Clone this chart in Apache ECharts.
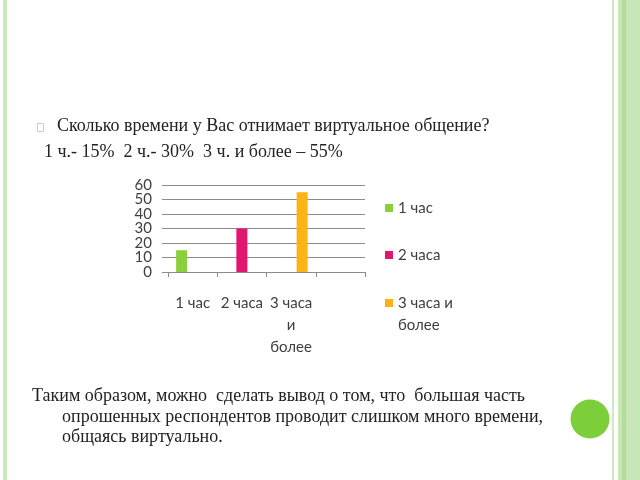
<!DOCTYPE html>
<html><head><meta charset="utf-8">
<script src="https://cdn.jsdelivr.net/npm/echarts@6/dist/echarts.min.js"></script>
<style>html,body{margin:0;padding:0;background:#fff}#c{width:640px;height:480px}</style>
</head><body><div id="c"></div>
<script>
var categories = ['1 час', '2 часа', '3 часа\nи\nболее', ''];
var seriesNames = ['1 час', '2 часа', '3 часа и\nболее'];
var values1 = [15, '-', '-', '-'];
var values2 = ['-', 30, '-', '-'];
var values3 = ['-', '-', 55, '-'];
var yMin = 0, yMax = 60, yInterval = 10;
var yLabelsEven = [0, 20, 40, 60];
var yLabelsOdd = [10, 30, 50];
var colors = ['#8ccf3c', '#e2156f', '#fbb414'];

var serif = '"Liberation Serif", "Times New Roman", serif';
var chartFont = 'Lato, "Open Sans", sans-serif';
var chart = echarts.init(document.getElementById('c'), null, {renderer: 'canvas'});
function legendAt(name, top, fmt) {
  var l = {
    data: [name], orient: 'vertical', left: 380, top: top,
    icon: 'rect', itemWidth: 8, itemHeight: 8, itemGap: 0, selectedMode: false,
    textStyle: {fontFamily: chartFont, fontSize: 15, color: '#404040', lineHeight: 22}
  };
  if (fmt) l.formatter = fmt;
  return l;
}
var labelStyle = {margin: 16, fontFamily: chartFont, fontSize: 15, color: '#404040',
                  showMinLabel: true, showMaxLabel: true};
var option = {
  animation: false,
  backgroundColor: '#ffffff',
  color: colors,
  grid: {left: 168, right: 275, top: 185, bottom: 208, containLabel: false},
  legend: [
    legendAt(seriesNames[0], 192),
    legendAt(seriesNames[1], 239),
    legendAt(seriesNames[2], 265, function (n) { return ' \n' + n; })
  ],
  xAxis: {
    type: 'category', data: categories, boundaryGap: true,
    axisLine: {show: true, lineStyle: {color: '#8c8c8c', width: 1}},
    axisTick: {show: true, length: 5, alignWithLabel: false, lineStyle: {color: '#8c8c8c'}},
    axisLabel: {interval: 0, margin: 20, fontFamily: chartFont, fontSize: 15, color: '#404040', lineHeight: 22}
  },
  yAxis: [
    {
      type: 'value', position: 'left', min: yMin, max: yMax, interval: yInterval,
      axisLine: {show: false},
      axisTick: {show: true, length: 6, lineStyle: {color: '#8c8c8c'}},
      splitLine: {show: true, lineStyle: {color: '#8c8c8c', width: 1}},
      axisLabel: Object.assign({customValues: yLabelsEven}, labelStyle)
    },
    {
      type: 'value', position: 'left', offset: 0, min: yMin, max: yMax, interval: yInterval,
      axisLine: {show: false}, axisTick: {show: false}, splitLine: {show: false},
      axisLabel: Object.assign({customValues: yLabelsOdd}, labelStyle)
    }
  ],
  series: [
    {name: seriesNames[0], type: 'bar', data: values1, barWidth: 11, barGap: '0%', itemStyle: {color: colors[0]}},
    {name: seriesNames[1], type: 'bar', data: values2, barWidth: 11, barGap: '0%', itemStyle: {color: colors[1]}},
    {name: seriesNames[2], type: 'bar', data: values3, barWidth: 11, barGap: '0%', itemStyle: {color: colors[2]}}
  ],
  graphic: [
    {type: 'rect', shape: {x: 3, y: 0, width: 4, height: 480}, style: {fill: '#cbe8bb'}, silent: true},
    {type: 'rect', shape: {x: 612, y: 0, width: 2, height: 480}, style: {fill: '#cfe9c2'}, silent: true},
    {type: 'rect', shape: {x: 618, y: 0, width: 22, height: 480}, style: {fill: '#c9e6b9'}, silent: true},
    {type: 'rect', shape: {x: 622, y: 0, width: 4, height: 480}, style: {fill: '#b3dd9b'}, silent: true},
    {type: 'circle', shape: {cx: 590, cy: 419, r: 19.5}, style: {fill: '#7dcf3a'}, silent: true},
    {type: 'rect', shape: {x: 37.5, y: 123.5, width: 6, height: 8}, style: {fill: 'none', stroke: '#b9dca3', lineWidth: 1}, silent: true},
    {type: 'text', left: 57, top: 117, style: {text: 'Сколько времени у Вас отнимает виртуальное общение?', font: '18px ' + serif, fill: '#222'}},
    {type: 'text', left: 44, top: 143, style: {text: '1 ч.- 15%  2 ч.- 30%  3 ч. и более – 55%', font: '18px ' + serif, fill: '#222'}},
    {type: 'text', left: 32, top: 387, style: {text: 'Таким образом, можно  сделать вывод о том, что  большая часть', font: '18px ' + serif, fill: '#222'}},
    {type: 'text', left: 62, top: 408, style: {text: 'опрошенных респондентов проводит слишком много времени,', font: '18px ' + serif, fill: '#222'}},
    {type: 'text', left: 62, top: 428, style: {text: 'общаясь виртуально.', font: '18px ' + serif, fill: '#222'}}
  ]
};
chart.setOption(option);
</script></body></html>
